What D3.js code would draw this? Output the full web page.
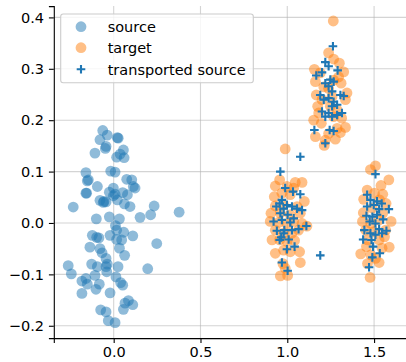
<!DOCTYPE html>
<html>
<head>
<meta charset="utf-8">
<script src="https://cdn.jsdelivr.net/npm/d3@7"></script>
<style>
  body { margin: 0; background: #fff; }
  svg { display: block; font-family: "DejaVu Sans", sans-serif; }
</style>
</head>
<body>
<svg id="chart"></svg>
<script>
// source samples [x, y]
const sourcePts = [
  [-0.063, 0.180], [-0.037, 0.171], [-0.079, 0.162], [0.021, 0.166], [0.026, 0.165],
  [-0.044, 0.149], [-0.048, 0.145], [0.056, 0.142], [-0.108, 0.136], [0.037, 0.134],
  [0.017, 0.128], [0.060, 0.127], [-0.160, 0.098], [-0.146, 0.084], [-0.152, 0.082],
  [-0.017, 0.101], [0.008, 0.099], [-0.094, 0.071], [-0.156, 0.058], [-0.160, 0.058],
  [0.075, 0.085], [0.104, 0.084], [0.113, 0.071], [0.123, 0.068], [-0.002, 0.068],
  [-0.025, 0.060], [0.008, 0.056], [0.052, 0.059], [0.079, 0.055], [-0.079, 0.044],
  [-0.056, 0.042], [-0.044, 0.041], [-0.060, 0.040], [0.021, 0.045], [-0.002, 0.053],
  [0.062, 0.037], [0.094, 0.032], [-0.233, 0.031], [0.233, 0.033], [0.377, 0.021],
  [0.213, 0.016], [0.152, 0.011], [-0.100, 0.008], [-0.025, 0.012], [0.033, 0.008],
  [0.010, -0.005], [0.017, -0.014], [0.058, -0.018], [-0.021, -0.024], [-0.123, -0.024],
  [-0.098, -0.028], [-0.085, -0.029], [0.110, -0.025], [0.017, -0.032], [0.046, -0.033],
  [0.248, -0.040], [-0.137, -0.047], [0.033, -0.049], [-0.079, -0.050], [-0.067, -0.058],
  [0.063, -0.063], [-0.044, -0.069], [-0.127, -0.080], [-0.037, -0.080], [-0.262, -0.083],
  [-0.094, -0.085], [0.025, -0.085], [0.196, -0.089], [-0.044, -0.085], [-0.244, -0.099],
  [-0.040, -0.095], [-0.108, -0.102], [0.013, -0.105], [-0.183, -0.113], [-0.160, -0.108],
  [-0.152, -0.119], [-0.083, -0.119], [0.052, -0.121], [0.040, -0.116], [-0.102, -0.129],
  [-0.183, -0.137], [-0.021, -0.136], [0.085, -0.151], [0.065, -0.156], [0.110, -0.159],
  [0.056, -0.168], [-0.075, -0.169], [-0.044, -0.173], [-0.031, -0.190], [0.008, -0.194]
];

// target samples [x, y]
const targetPts = [
  // upper cluster
  [1.265, 0.393], [1.238, 0.331], [1.267, 0.319], [1.300, 0.311], [1.156, 0.299],
  [1.190, 0.292], [1.325, 0.294], [1.162, 0.275], [1.267, 0.278], [1.310, 0.272],
  [1.167, 0.249], [1.344, 0.253], [1.335, 0.240], [1.200, 0.240], [1.175, 0.227],
  [1.248, 0.227], [1.287, 0.220], [1.152, 0.200], [1.313, 0.204], [1.196, 0.194],
  [1.335, 0.186], [1.287, 0.184], [1.162, 0.168], [1.219, 0.161], [1.277, 0.163],
  [1.213, 0.151], [1.306, 0.176], [1.238, 0.262], [1.210, 0.265], [1.258, 0.246],
  [1.181, 0.214], [1.267, 0.207], [1.238, 0.174], [1.296, 0.284],
  // lower left cluster
  [0.988, 0.144], [0.956, 0.084], [0.931, 0.072], [0.998, 0.071], [1.046, 0.079],
  [1.085, 0.079], [1.037, 0.068], [0.925, 0.051], [0.969, 0.058], [1.017, 0.055],
  [1.098, 0.042], [0.931, 0.033], [0.979, 0.035], [1.056, 0.032], [0.906, 0.019],
  [0.960, 0.019], [1.017, 0.016], [1.075, 0.019], [0.902, 0.003], [0.950, 0.001],
  [0.998, -0.002], [1.037, 0.003], [1.085, -0.001], [1.113, -0.006], [0.931, -0.014],
  [0.979, -0.020], [1.027, -0.020], [1.065, -0.014], [0.956, -0.033], [0.998, -0.036],
  [1.042, -0.034], [0.931, -0.059], [0.979, -0.053], [1.017, -0.056], [1.071, -0.056],
  [0.975, -0.079], [1.075, -0.077], [0.960, -0.103], [1.002, -0.102], [0.988, -0.088],
  [0.912, -0.033],
  // lower right cluster
  [1.508, 0.111], [1.479, 0.104], [1.585, 0.084], [1.460, 0.064], [1.540, 0.073],
  [1.550, 0.056], [1.502, 0.058], [1.440, 0.046], [1.531, 0.045], [1.569, 0.038],
  [1.438, 0.020], [1.490, 0.029], [1.550, 0.019], [1.433, 0.003], [1.481, -0.001],
  [1.529, 0.006], [1.598, 0.003], [1.452, -0.014], [1.500, -0.017], [1.567, -0.014],
  [1.462, -0.033], [1.529, -0.033], [1.587, -0.047], [1.423, -0.060], [1.481, -0.062],
  [1.546, -0.049], [1.529, -0.077], [1.462, -0.079], [1.477, -0.106], [1.508, -0.069],
  [1.456, -0.046], [1.560, -0.027]
];

// transported source samples [x, y]
const transportedPts = [
  // upper cluster
  [1.263, 0.344], [1.219, 0.313], [1.238, 0.305], [1.290, 0.297], [1.167, 0.287],
  [1.200, 0.293], [1.248, 0.279], [1.219, 0.272], [1.267, 0.275], [1.238, 0.266],
  [1.190, 0.249], [1.306, 0.249], [1.258, 0.256], [1.238, 0.243], [1.210, 0.240],
  [1.267, 0.236], [1.287, 0.230], [1.200, 0.217], [1.238, 0.214], [1.315, 0.214],
  [1.219, 0.207], [1.258, 0.207], [1.287, 0.210], [1.156, 0.181], [1.244, 0.181],
  [1.267, 0.179], [1.219, 0.155], [1.325, 0.247], [1.258, 0.227],
  // strays
  [1.075, 0.129], [0.960, 0.100], [1.190, -0.063], [1.508, 0.095],
  // lower left cluster
  [0.988, 0.068], [1.033, 0.061], [1.075, 0.056], [0.969, 0.045], [0.956, 0.038],
  [0.937, 0.032], [0.979, 0.028], [0.998, 0.035], [1.027, 0.032], [1.056, 0.028],
  [1.085, 0.025], [0.960, 0.019], [1.002, 0.016], [1.037, 0.009], [0.921, 0.003],
  [0.969, 0.006], [1.017, 0.001], [1.110, -0.006], [1.065, -0.012], [0.940, -0.015],
  [0.983, -0.014], [1.027, -0.014], [0.965, -0.028], [1.008, -0.032], [1.042, -0.046],
  [0.956, -0.033], [0.998, -0.051], [0.969, -0.077], [1.002, -0.093], [0.979, -0.020],
  // lower right cluster
  [1.460, 0.055], [1.479, 0.045], [1.517, 0.042], [1.544, 0.038], [1.460, 0.032],
  [1.498, 0.035], [1.585, 0.027], [1.529, 0.027], [1.456, 0.014], [1.490, 0.012],
  [1.517, 0.016], [1.552, 0.007], [1.475, 0.003], [1.508, -0.001], [1.444, -0.014],
  [1.529, -0.012], [1.571, -0.015], [1.479, -0.020], [1.508, -0.023], [1.546, -0.020],
  [1.437, -0.032], [1.485, -0.033], [1.494, -0.046], [1.533, -0.059], [1.490, -0.067],
  [1.471, -0.086]
];

const xTicks = [0.0, 0.5, 1.0, 1.5];
const yTicks = [-0.2, -0.1, 0.0, 0.1, 0.2, 0.3, 0.4];
const legendLabels = ["source", "target", "transported source"];

const width = 406, height = 362;
const blue = "#1f77b4", orange = "#ff7f0e";
const fontSize = 14.5;

const svg = d3.select("#chart")
  .attr("width", width)
  .attr("height", height);

const xScale = d3.scaleLinear([-0.345, 1.7], [53.8, 408.8]);
const yScale = d3.scaleLinear([-0.224, 0.422], [338.1, 6.1]);

// grid
const grid = svg.append("g").attr("stroke", "#b0b0b0").attr("stroke-opacity", 0.55).attr("stroke-width", 1.1);
grid.selectAll(".gx").data(xTicks).join("line")
  .attr("x1", d => xScale(d)).attr("x2", d => xScale(d))
  .attr("y1", yScale.range()[0]).attr("y2", yScale.range()[1]);
grid.selectAll(".gy").data(yTicks).join("line")
  .attr("y1", d => yScale(d)).attr("y2", d => yScale(d))
  .attr("x1", xScale.range()[0]).attr("x2", xScale.range()[1]);

// points
svg.append("g").selectAll("circle").data(sourcePts).join("circle")
  .attr("cx", d => xScale(d[0])).attr("cy", d => yScale(d[1]))
  .attr("r", 5.4).attr("fill", blue).attr("fill-opacity", 0.5);

svg.append("g").selectAll("circle").data(targetPts).join("circle")
  .attr("cx", d => xScale(d[0])).attr("cy", d => yScale(d[1]))
  .attr("r", 5.4).attr("fill", orange).attr("fill-opacity", 0.5);

const plus = (cx, cy, h) => `M${cx - h},${cy}H${cx + h}M${cx},${cy - h}V${cy + h}`;
svg.append("g").selectAll("path").data(transportedPts).join("path")
  .attr("d", d => plus(xScale(d[0]), yScale(d[1]), 4.3))
  .attr("stroke", blue).attr("stroke-width", 2.1).attr("fill", "none");

// axes
const xAxis = d3.axisBottom(xScale).tickValues(xTicks).tickFormat(d3.format(".1f"))
  .tickSizeOuter(0).tickSize(4.9).tickPadding(3.5);
const yAxis = d3.axisLeft(yScale).tickValues(yTicks)
  .tickFormat(d => d3.format(".1f")(d).replace("-", "\u2212"))
  .tickSizeOuter(0).tickSize(4.9).tickPadding(4.9);

const gx = svg.append("g").attr("transform", `translate(0,${yScale.range()[0]})`).call(xAxis);
const gy = svg.append("g").attr("transform", `translate(${xScale.range()[0]},0)`).call(yAxis);
[gx, gy].forEach(g => {
  g.selectAll("text").attr("font-size", fontSize).attr("fill", "#000")
    .attr("font-family", "DejaVu Sans, sans-serif");
  g.selectAll("line").attr("stroke", "#000").attr("stroke-width", 1.1);
  g.select(".domain").attr("stroke", "#000").attr("stroke-width", 1.1);
});

// legend
const lg = svg.append("g");
lg.append("rect")
  .attr("x", 60.7).attr("y", 14).attr("width", 192.6).attr("height", 68.7)
  .attr("rx", 2.5).attr("fill", "#fff").attr("fill-opacity", 0.8)
  .attr("stroke", "#cccccc").attr("stroke-width", 1.1);
const rowY = [26.7, 47.7, 69.3];
legendLabels.forEach((label, i) => {
  if (i === 2) {
    lg.append("path").attr("d", plus(81, rowY[i], 4.3))
      .attr("stroke", blue).attr("stroke-width", 2.1);
  } else {
    lg.append("circle").attr("cx", 81).attr("cy", rowY[i]).attr("r", 5.4)
      .attr("fill", i === 0 ? blue : orange).attr("fill-opacity", 0.5);
  }
  lg.append("text").attr("x", 107.7).attr("y", rowY[i]).attr("dy", "0.36em")
    .attr("font-size", fontSize).text(label);
});
</script>
</body>
</html>
